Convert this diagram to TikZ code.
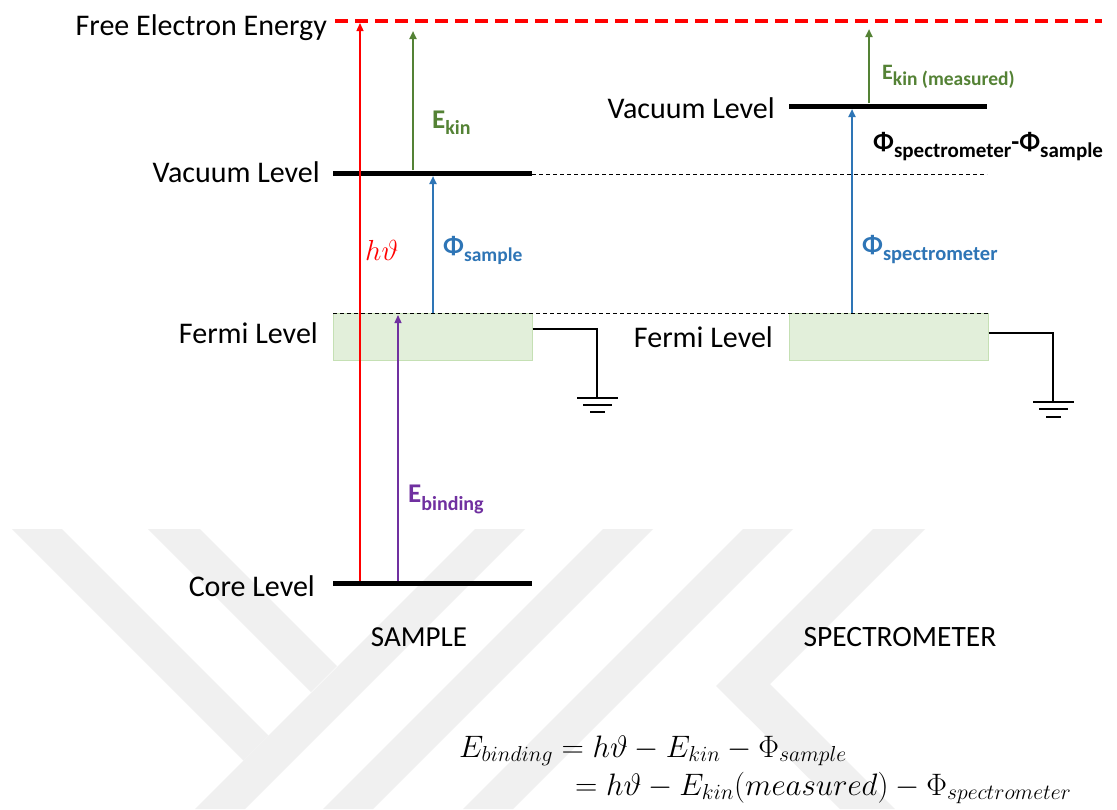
\documentclass[tikz,border=0pt]{standalone}
\usepackage{fix-cm}
\usepackage[no-math]{fontspec}
\setmainfont{Carlito}
\usetikzlibrary{arrows.meta}
\definecolor{wm}{RGB}{240,240,240}
\definecolor{egreen}{RGB}{84,130,53}
\definecolor{eblue}{RGB}{46,117,182}
\definecolor{epurple}{RGB}{112,48,160}
\definecolor{ffill}{RGB}{226,239,218}
\definecolor{fline}{RGB}{197,224,180}
\newcommand\mylab[5]{{\fontsize{#2}{#2}\selectfont\bfseries #1}\raisebox{-#5}{\fontsize{#4}{#4}\selectfont\bfseries #3}}
\tikzset{
  lvl/.style={line width=5pt},
  lbl/.style={font=\fontsize{30}{36}\selectfont, inner sep=0pt, anchor=base east},
  blbl/.style={inner sep=0pt, anchor=base west},
  fermibox/.style={draw=fline, fill=ffill, line width=1pt, minimum width=199pt, minimum height=47pt, inner sep=0pt},
  thindash/.style={line width=1pt, dash pattern=on 4pt off 3pt},
  wire/.style={line width=1.3pt},
  arr/.style={-{Triangle[length=8pt,width=7pt]}},
}
\begin{document}
\begin{tikzpicture}[x=1pt,y=-1pt]
\useasboundingbox (0,0) rectangle (1117,809);
\fill[white] (0,0) rectangle (1117,809);
% watermark
\fill[wm] (12,529) -- (62,529) -- (268.5,735.5) -- (243.5,760.5) -- cycle;
\fill[wm] (148,529) -- (200,529) -- (337,666) -- (311,692) -- cycle;
\fill[wm] (475,529) -- (525,529) -- (245,809) -- (195,809) -- cycle;
\fill[wm] (603,529) -- (653,529) -- (373,809) -- (323,809) -- cycle;
\fill[wm] (743,529) -- (793,529) -- (513,809) -- (463,809) -- cycle;
\fill[wm] (873,529) -- (925,529) -- (770,684) -- (895,809) -- (840,809) -- (716,686) -- cycle;

% Fermi boxes
\node[fermibox] (fs) at (432.5,337) {};
\node[fermibox] (fp) at (888.5,337) {};

% ground wires
\coordinate (gs) at (597,398);
\coordinate (gp) at (1053,402);
\draw[wire] ([yshift=-16pt]fs.north east) -| (gs);
\draw[wire] ([yshift=-20pt]fp.north east) -| (gp);
\draw[wire] (gs) ++(-20,0) -- ++(41,0) ++(-35,7) -- ++(29,0) ++(-22,7) -- ++(15,0);
\draw[wire] (gp) ++(-20,0) -- ++(41,0) ++(-35,7) -- ++(29,0) ++(-22,8) -- ++(15,0);

% dashed lines
\coordinate (fdl) at (333,313);
\coordinate (fdr) at (989,313);
\draw[thindash] (fdl) -- (fdr);
\coordinate (vdl) at (532,174);
\coordinate (vdr) at (987,174);
\draw[thindash] (vdl) -- (vdr);
\coordinate (red1) at (335,21);
\coordinate (red2) at (1102,21);
\draw[red, line width=4pt, dash pattern=on 13pt off 7pt] (red1) -- (red2);

% levels
\coordinate (vs1) at (333,173); \coordinate (vs2) at (532,173);
\coordinate (cs1) at (333,583); \coordinate (cs2) at (532,583);
\coordinate (vp1) at (789,106); \coordinate (vp2) at (987,106);
\draw[lvl] (vs1) -- (vs2);
\draw[lvl] (cs1) -- (cs2);
\draw[lvl] (vp1) -- (vp2);

% arrows
\coordinate (rb) at (360,581); \coordinate (rt) at (360,23);
\draw[arr, red, line width=1.3pt] (rb) -- (rt);
\coordinate (gb) at (413,170); \coordinate (gt) at (413,31);
\draw[arr, egreen, line width=2pt] (gb) -- (gt);
\coordinate (bb) at (433,313); \coordinate (bt) at (433,176);
\draw[arr, eblue, line width=2pt] (bb) -- (bt);
\coordinate (pb) at (398,581); \coordinate (pt) at (398,315);
\draw[arr, epurple, line width=1.3pt] (pb) -- (pt);
\coordinate (gpb) at (869,103); \coordinate (gpt) at (869,29);
\draw[arr, egreen, line width=2pt] (gpb) -- (gpt);
\coordinate (bpb) at (852,313); \coordinate (bpt) at (852,109);
\draw[arr, eblue, line width=2pt] (bpb) -- (bpt);

% level labels
\node[lbl] (tfree) at (327,35) {Free Electron Energy};
\node[lbl] (tvs) at (320,182) {Vacuum Level};
\node[lbl] (tfs) at (318,343) {Fermi Level};
\node[lbl] (tcs) at (315,596) {Core Level};
\node[lbl] (tvp) at (775,118) {Vacuum Level};
\node[lbl] (tfp) at (773,347) {Fermi Level};
\node[lbl, anchor=base, font=\fontsize{29}{34}\selectfont] (tsam) at (419,646) {SAMPLE};
\node[lbl, anchor=base, font=\fontsize{29.5}{34}\selectfont] (tspe) at (900,646) {SPECTROMETER};

% arrow labels
\node[blbl, text=red, font=\fontsize{29}{34}\selectfont] (thv) at (365,260) {$h\vartheta$};
\node[blbl, text=egreen] (tek) at (432,128) {\mylab{E}{27}{kin}{20}{6pt}};
\node[blbl, text=egreen] (tekm) at (882,79) {\mylab{E}{22}{kin (measured)}{19.5}{6pt}};
\node[blbl, text=eblue] (tphs) at (443,254) {\mylab{Φ}{26}{sample}{19.5}{7pt}};
\node[blbl, text=eblue] (tphp) at (862,253) {\mylab{Φ}{26}{spectrometer}{20.5}{7pt}};
\node[blbl, text=epurple] (teb) at (408,502) {\mylab{E}{27}{binding}{20}{8pt}};
\node[blbl] (tdiff) at (873,150) {\mylab{Φ}{26}{spectrometer}{21}{7pt}\mylab{-Φ}{26}{sample}{21}{7pt}};

% equation
\node[blbl, font=\fontsize{31}{36}\selectfont] (eq1) at (459,757) {$E_{binding} = h\vartheta - E_{kin} - \Phi_{sample}$};
\node[blbl, font=\fontsize{31}{36}\selectfont] (eq2) at (575,795) {$= h\vartheta - E_{kin}(measured) - \Phi_{spectrometer}$};
\end{tikzpicture}
\end{document}
